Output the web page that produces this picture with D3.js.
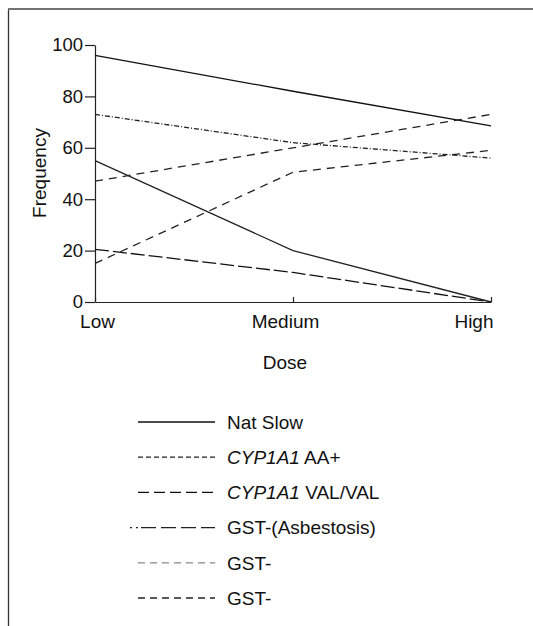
<!DOCTYPE html>
<html>
<head>
<meta charset="utf-8">
<script src="https://cdn.jsdelivr.net/npm/d3@7"></script>
<style>
  body { margin: 0; background: #fff; }
  svg { display: block; font-family: "Liberation Sans", Arial, Helvetica, sans-serif; }
  .axis path, .axis line { stroke: #222; stroke-width: 1.2; }
  .axis text { fill: #111; }
</style>
</head>
<body>
<div id="chart"></div>
<script>
// values
var doses = ["Low", "Medium", "High"];
var yTicks = [0, 20, 40, 60, 80, 100];

var natSlow = [96, 82, 68.5];
var cypAA = [73, 62, 56];
var cypVal = [20.5, 11.5, 0];
var gstAsb = [55, 20, 0];
var gstA = [47, 60, 73];
var gstB = [15, 50.5, 59];

// legend entries (name split so the gene symbol can be italic)
var seriesNames = [
  ["", "Nat Slow"],
  ["CYP1A1", " AA+"],
  ["CYP1A1", " VAL/VAL"],
  ["", "GST-(Asbestosis)"],
  ["", "GST-"],
  ["", "GST-"]
];
var seriesValues = [natSlow, cypAA, cypVal, gstAsb, gstA, gstB];

// line look, plot dash / legend dash / colour
var plotDash = ["none", "5,2,1,2", "14,4", "none", "8,6", "8,6"];
var legendDash = ["none", "5,3", "11,5", "2,4,2,3,15,5,15,5,15,5,15,100", "7,5", "7,5"];
var lineColor = ["#111", "#222", "#111", "#222", "#222", "#222"];
var legendColor = ["#111", "#222", "#111", "#222", "#888", "#222"];

var width = 533, height = 626;

var svg = d3.select("#chart").append("svg")
    .attr("width", width)
    .attr("height", height);

// scanned frame (top and left rule)
svg.append("line")
    .attr("x1", 8).attr("x2", 533).attr("y1", 9).attr("y2", 9)
    .attr("stroke", "#444").attr("stroke-width", 1.3);
svg.append("line")
    .attr("x1", 8.5).attr("x2", 8.5).attr("y1", 10).attr("y2", 626)
    .attr("stroke", "#333").attr("stroke-width", 1.3);

var x = d3.scalePoint()
    .domain(doses)
    .range([95, 491])
    .padding(0);

var y = d3.scaleLinear()
    .domain([0, 100])
    .range([302, 45]);

// y axis
var yAxis = svg.append("g")
    .attr("class", "axis y")
    .attr("transform", "translate(95,0)")
    .call(d3.axisLeft(y).tickValues(yTicks).tickSize(10).tickSizeOuter(0).tickPadding(2));
yAxis.selectAll("text").style("font-size", "18.5px");

// x axis, ticks point up
var xAxis = svg.append("g")
    .attr("class", "axis x")
    .attr("transform", "translate(0,302)")
    .call(d3.axisBottom(x).tickSize(-5).tickSizeOuter(0).tickPadding(13));
xAxis.selectAll("text")
    .style("font-size", "19px")
    .attr("dx", function(d) { return d === "Medium" ? -8 : 2; })
    .attr("text-anchor", function(d) { return d === "High" ? "end" : "middle"; });

// axis titles
svg.append("text")
    .attr("transform", "translate(46,173) rotate(-90)")
    .attr("text-anchor", "middle")
    .style("font-size", "19px")
    .attr("fill", "#111")
    .text("Frequency");

svg.append("text")
    .attr("x", 285)
    .attr("y", 369)
    .attr("text-anchor", "middle")
    .style("font-size", "19px")
    .attr("fill", "#111")
    .text("Dose");

// series lines
var line = d3.line()
    .x(function(d, i) { return x(doses[i]); })
    .y(function(d) { return y(d); });

svg.selectAll(".series")
    .data(seriesValues)
  .enter().append("path")
    .attr("class", "series")
    .attr("d", line)
    .attr("fill", "none")
    .attr("stroke", function(d, i) { return lineColor[i]; })
    .attr("stroke-width", 1.3)
    .attr("stroke-dasharray", function(d, i) { return plotDash[i]; });

// legend
var legend = svg.selectAll(".legend")
    .data(seriesNames)
  .enter().append("g")
    .attr("class", "legend")
    .attr("transform", function(d, i) { return "translate(0," + (422 + i * 35.2) + ")"; });

legend.append("line")
    .attr("x1", function(d, i) { return i === 3 ? 130 : 138; })
    .attr("x2", 215)
    .attr("y1", 0).attr("y2", 0)
    .attr("stroke", function(d, i) { return legendColor[i]; })
    .attr("stroke-width", 1.3)
    .attr("stroke-dasharray", function(d, i) { return legendDash[i]; });

var lt = legend.append("text")
    .attr("x", 227)
    .attr("y", 0)
    .attr("dy", "0.36em")
    .style("font-size", "19px")
    .attr("fill", "#111");
lt.append("tspan")
    .style("font-style", "italic")
    .text(function(d) { return d[0]; });
lt.append("tspan")
    .text(function(d) { return d[1]; });
</script>
</body>
</html>
